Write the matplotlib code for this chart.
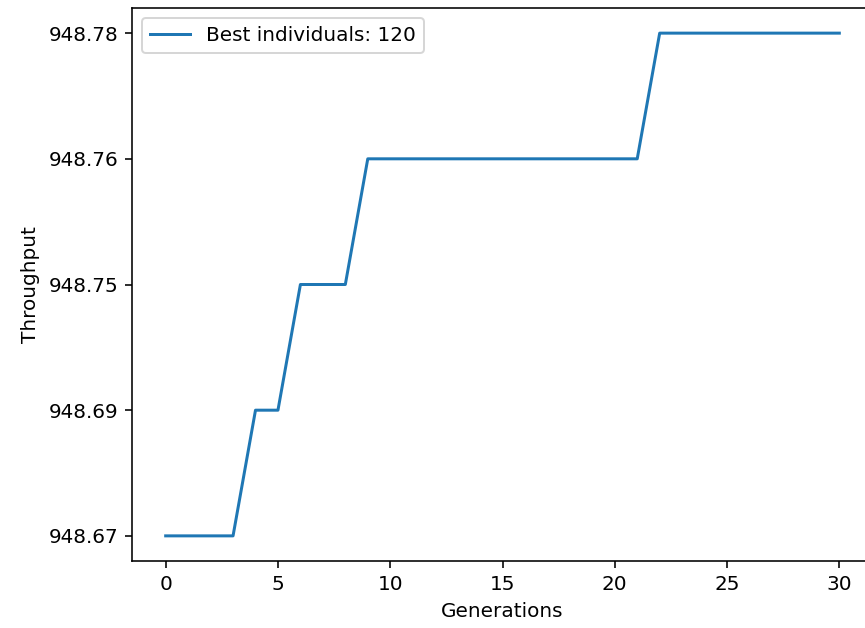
import matplotlib
matplotlib.use("Agg")
import matplotlib.pyplot as plt

# best throughput per generation (y axis is categorical, values stored as strings)
generations = list(range(31))
throughput = (["948.67"] * 4 + ["948.69"] * 2 + ["948.75"] * 3
              + ["948.76"] * 13 + ["948.78"] * 9)
label = "Best individuals: 120"

fig = plt.figure(figsize=(865 / 144, 628 / 144), dpi=144)
ax = fig.add_subplot(111)
# the reference is cropped just past the right spine
fig.subplots_adjust(left=132 / 865, right=873 / 865, top=1 - 8 / 628, bottom=1 - 561 / 628)

ax.plot(generations, throughput, label=label)
ax.set_xlabel("Generations")
ax.set_ylabel("Throughput")
ax.legend(loc="upper left")

fig.savefig("out.png", dpi=144)
